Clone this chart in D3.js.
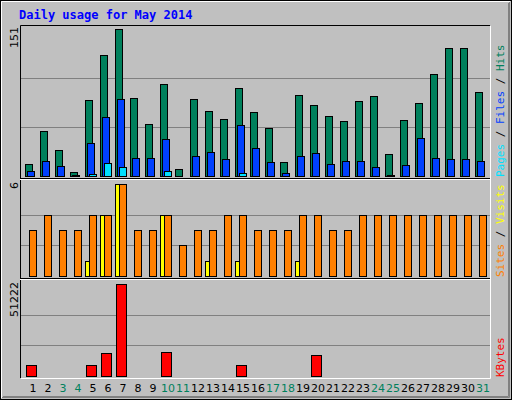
<!DOCTYPE html>
<html><head><meta charset="utf-8">
<script src="https://cdn.jsdelivr.net/npm/d3@7"></script>
<style>body{margin:0;background:#fff}</style></head>
<body><svg id="c" width="512" height="400"></svg>
<script>
const days = d3.range(1, 32);
const weekend = [3,4,10,11,17,18,24,25,31];
const hits  = [12,46,27,4,78,124,151,80,53,94,7,79,67,59,90,66,49,14,83,73,62,56,77,82,23,58,75,105,131,131,86];
const files = [5,15,10,1,34,61,79,19,18,38,0,21,25,17,52,29,14,3,21,24,12,15,15,9,1,11,39,18,17,17,15];
const pages = [0,0,0,0,2,13,9,0,0,5,0,0,0,0,3,0,0,0,0,0,0,0,0,0,0,0,0,0,0,0,0];
const visits= [0,0,0,0,1,4,6,0,0,4,0,0,1,0,1,0,0,0,1,0,0,0,0,0,0,0,0,0,0,0,0];
const sites = [3,4,3,3,4,4,6,3,3,4,2,3,3,4,4,3,3,3,4,4,3,3,4,4,4,4,4,4,4,4,4];
const kbytes= [6100,0,0,0,6100,12800,51222,0,0,13400,0,0,0,0,6100,0,0,0,0,11700,0,0,0,0,0,0,0,0,0,0,0];
const maxHits = 151, maxSites = 6, maxKB = 51222;

const svg = d3.select("#c");
// outer frame
svg.append("rect").attr("x",0).attr("y",0).attr("width",512).attr("height",400).attr("fill","#c0c0c0");
svg.append("rect").attr("x",0.5).attr("y",0.5).attr("width",511).attr("height",399).attr("fill","none").attr("stroke","#000");
svg.append("path").attr("d","M1.5,398V1.5H510").attr("stroke","#fff").attr("fill","none");
svg.append("path").attr("d","M2,397.5H509.5V2").attr("stroke","#808080").attr("fill","none");
svg.append("path").attr("d","M3,396.5H508.5V3").attr("stroke","#808080").attr("fill","none");

svg.append("text").attr("x",19).attr("y",19).text("Daily usage for May 2014")
  .attr("font-family","DejaVu Sans Mono").attr("font-weight","bold").attr("font-size",12).attr("fill","#0000ff");

const x = d3.scaleLinear().domain([1,31]).range([25,475]);
const L = 20, R = 490;
const yH = d3.scaleLinear().domain([0,maxHits]).range([176,29]);
const yS = d3.scaleLinear().domain([0,maxSites]).range([276,184]);
const yK = d3.scaleLinear().domain([0,maxKB]).range([376,284]);

// panel frame
svg.append("path").attr("d",`M${L+.5},378V25.5H${R}`).attr("stroke","#000").attr("fill","none");
svg.append("path").attr("d",`M${L+1},378.5H${R+.5}V26`).attr("stroke","#fff").attr("fill","none");
[178.5,278.5].forEach(y=>{
  svg.append("line").attr("x1",L).attr("x2",R).attr("y1",y).attr("y2",y).attr("stroke","#000");
  svg.append("line").attr("x1",L).attr("x2",R).attr("y1",y+1).attr("y2",y+1).attr("stroke","#fff");
});
function grid(y, max){
  [max/3, 2*max/3].forEach(v=>svg.append("line").attr("x1",L+1).attr("x2",R).attr("y1",Math.round(y(v))+.5).attr("y2",Math.round(y(v))+.5).attr("stroke","#808080"));
}
grid(yH,maxHits); grid(yS,maxSites); grid(yK,maxKB);

function bars(data, y, off, w, color, drawZero){
  svg.append("g").selectAll("rect").data(data.map((v,i)=>({v,d:days[i]})).filter(o=>drawZero||o.v>0))
    .join("rect").attr("x",o=>x(o.d)+off+.5).attr("width",w)
    .attr("y",o=>Math.round(y(o.v))+.5).attr("height",o=>Math.max(0,Math.round(y(0))-Math.round(y(o.v))))
    .attr("fill",color).attr("stroke","#000");
}
bars(hits, yH, 0, 7, "#00805c");
bars(files, yH, 2, 7, "#0040ff");
bars(pages, yH, 4, 7, "#00e0ff");
bars(visits, yS, 0, 4, "#ffff00");
bars(sites, yS, 4, 7, "#ff8000");
bars(kbytes, yK, 1, 10, "#ff0000", true);

// left max labels
function vlab(txt, xx, yy, color, anchor, family, size){
  return svg.append("text").attr("transform",`translate(${xx},${yy}) rotate(-90)`).attr("text-anchor",anchor)
   .attr("font-family",family||"DejaVu Sans").attr("font-size",size||11).attr("fill",color||"#000").text(txt);
}
vlab(String(maxHits),18,27,"#000","end");
vlab(String(maxSites),18,182,"#000","end");
vlab(String(maxKB),18,282,"#000","end");

// right legends
function legend(parts, yy){
  const t = svg.append("text").attr("transform",`translate(504,${yy}) rotate(-90)`).attr("text-anchor","start")
   .attr("font-family","DejaVu Sans Mono").attr("font-size",11);
  parts.forEach(p=>t.append("tspan").attr("fill",p[1]).text(p[0]));
}
legend([["Pages","#00e0ff"],[" / ","#000"],["Files","#0040ff"],[" / ","#000"],["Hits","#00805c"]],177);
legend([["Sites","#ff8000"],[" / ","#000"],["Visits","#ffff00"]],277);
legend([["KBytes","#ff0000"]],377);

// day labels
svg.append("g").selectAll("text").data(days).join("text")
  .attr("x",d=>x(d)+8).attr("y",392).attr("text-anchor","middle")
  .attr("font-family","DejaVu Sans").attr("font-size",11)
  .attr("fill",d=>weekend.includes(d)?"#00805c":"#000").text(d=>d);
</script></body></html>
